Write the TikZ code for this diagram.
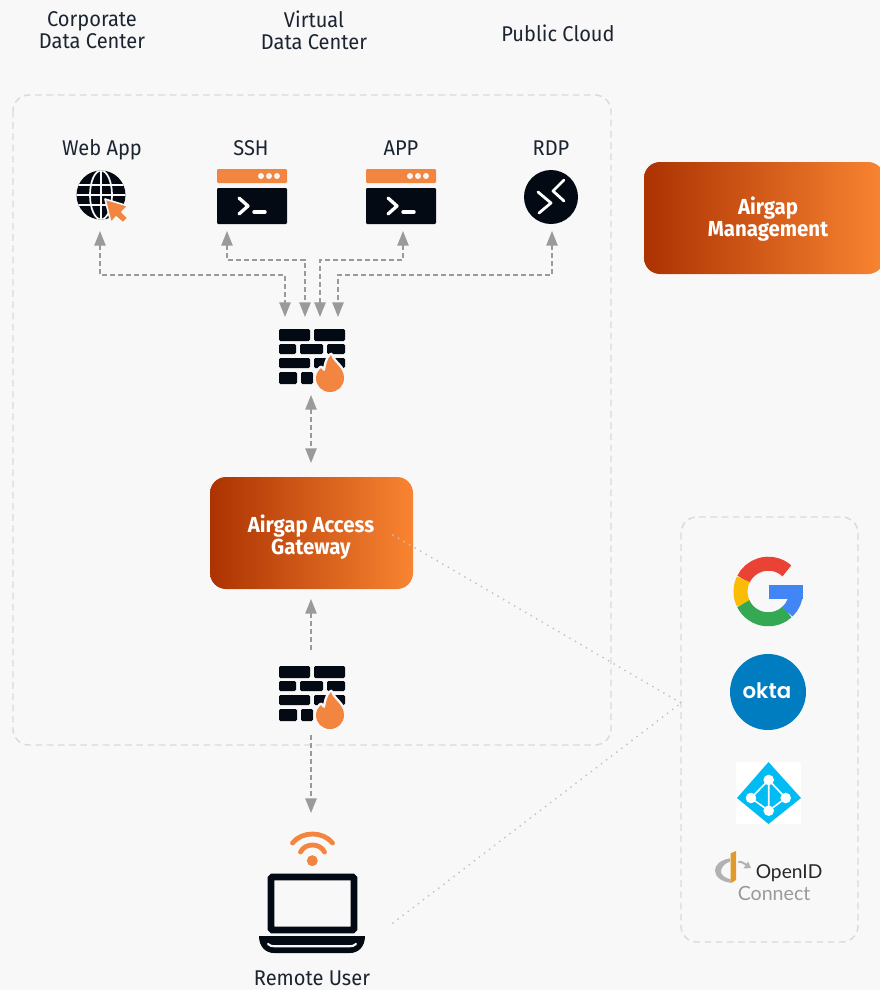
\documentclass[tikz,border=0pt]{standalone}
\usepackage{fontspec}
\setmainfont[FakeStretch=0.94]{Fira Sans}
\newfontfamily\oktafont{Poppins SemiBold}
\newfontfamily\oidfont{Lato}
\usetikzlibrary{arrows.meta}
\definecolor{bg}{HTML}{F8F8F8}
\definecolor{ink}{HTML}{030A14}
\definecolor{txt}{HTML}{1B2430}
\definecolor{fire}{HTML}{F28540}
\definecolor{arrowgrey}{HTML}{999A9C}
\definecolor{boxgrey}{HTML}{DADADA}
\definecolor{dotgrey}{HTML}{C2C2C2}
\definecolor{gradL}{HTML}{AC3302}
\definecolor{gradR}{HTML}{F98431}
\definecolor{gred}{HTML}{EA4335}
\definecolor{gyellow}{HTML}{FBBC05}
\definecolor{ggreen}{HTML}{34A853}
\definecolor{gblue}{HTML}{4285F4}
\definecolor{oktablue}{HTML}{007DC1}
\definecolor{azure}{HTML}{00BCF2}
\definecolor{oidorange}{HTML}{E09A2B}
\definecolor{oidgrey}{HTML}{B2B2B2}
\def\flamepath{(52,26) .. controls (54,34) and (65,38) .. (65,49)
      .. controls (65,57) and (59,63) .. (51,63)
      .. controls (43,63) and (37,57) .. (37,49)
      .. controls (37,45) and (39,42) .. (42,39)
      .. controls (43,41) and (44,42) .. (46,42)
      .. controls (47,36) and (48,30) .. (52,26) -- cycle}
\tikzset{
  lbl/.style={font=\fontsize{16pt}{16.5pt}\selectfont, text=txt, align=center, inner sep=0pt},
  boxlbl/.style={font=\bfseries\fontsize{16.3pt}{16.5pt}\selectfont, text=white, align=center, inner sep=0pt},
  conn/.style={draw=arrowgrey, line width=1.1pt, dash pattern=on 3.6pt off 2.4pt,
     {Triangle[width=8.5pt,length=11pt,fill=arrowgrey]}-{Triangle[width=8.5pt,length=11pt,fill=arrowgrey]}},
  connone/.style={draw=arrowgrey, line width=1.1pt, dash pattern=on 3.6pt off 2.4pt,
     -{Triangle[width=8.5pt,length=11pt,fill=arrowgrey]}},
  zone/.style={draw=boxgrey, line width=1.1pt, dash pattern=on 5pt off 3.4pt, rounded corners=12pt},
  dotline/.style={draw=dotgrey, line width=1.5pt, line cap=round, dash pattern=on 0pt off 4.8pt},
  brick/.style={fill=ink, rounded corners=1pt},
  firewall/.pic={
    \foreach \a/\b/\c/\d in {0/0/31/12,35/0/66/12,0/15/17/25,21/15/44/25,48/15/66/25,0/29/31/39,35/29/66/39,0/43/18/55,22/43/34/55}
      {\fill[brick] (\a,\b) rectangle (\c,\d);}
    \draw[bg, line width=3.6pt, line join=round] \flamepath;
    \fill[fire] \flamepath;
  },
  terminal/.pic={
    \fill[fire, rounded corners=0.8pt] (0,0) rectangle (70,14);
    \fill[ink, rounded corners=0.8pt] (0,19) rectangle (70,55);
    \foreach \x in {44,52,60} {\fill[bg] (\x,7) circle (3);}
    \draw[white, line width=2.5pt, line cap=round, line join=round] (22,29) -- (31,37) -- (22,45);
    \draw[white, line width=2.6pt, line cap=round] (37,43) -- (48,43);
  }
}
\begin{document}
\begin{tikzpicture}[x=0.75pt,y=-0.75pt]
\useasboundingbox (0,0) rectangle (880,990);
\fill[bg] (0,0) rectangle (880,990);

% zones
\draw[zone] (13,95) rectangle (611,745);
\draw[zone] (681,517) rectangle (858,942);

% top labels
\node[lbl] (corp) at (92,30) {Corporate\\Data Center};
\node[lbl] (virt) at (314,30) {Virtual\\Data Center};
\node[lbl,anchor=base] (pub) at (558,41) {Public Cloud};

% service labels
\node[lbl,anchor=base] (lweb) at (102,155) {Web App};
\node[lbl,anchor=base] (lssh) at (251,155) {SSH};
\node[lbl,anchor=base] (lapp) at (401,155) {APP};
\node[lbl,anchor=base] (lrdp) at (551,155) {RDP};

% globe
\begin{scope}[shift={(101,195)}]
  \fill[ink] (0,0) circle (24.5);
  \begin{scope}
    \clip (0,0) circle (24.5);
    \draw[bg, line width=1.3pt] (0,-25) -- (0,25) (-25,-10) -- (25,-10) (-25,0) -- (25,0) (-25,10) -- (25,10);
    \draw[bg, line width=1.3pt] (0,0) ellipse (11 and 24.5);
  \end{scope}
  \path[fill=fire, draw=bg, line width=1.2pt, line join=round]
    (4,4) -- (27,11) -- (21,17) -- (27,23) -- (22,28) -- (15,22) -- (10,28) -- cycle;
\end{scope}

% terminals
\pic (tssh) at (217,169) {terminal};
\pic (tapp) at (366,169) {terminal};

% rdp
\fill[ink] (551,197) circle (27);
\draw[white, line width=2.1pt, line cap=round, line join=round] (538,192) -- (551,203) -- (539,213);
\draw[white, line width=2.1pt, line cap=round, line join=round] (564,180) -- (553,191) -- (564,201);

% firewalls
\pic (fwa) at (279,329) {firewall};
\pic (fwb) at (279,666) {firewall};

% management box
\begin{scope}
  \clip (0,0) rectangle (880,990);
  \node[minimum width=180pt, minimum height=84pt, rounded corners=12pt, left color=gradL, right color=gradR, inner sep=0pt] (mgmt) at (764,218) {};
\end{scope}
\node[boxlbl] (mgmtl) at (768,219) {Airgap\\Management};

% gateway
\node[minimum width=152.25pt, minimum height=84pt, rounded corners=12pt, left color=gradL, right color=gradR, inner sep=0pt] (gw) at (311.5,533) {};
\node[boxlbl] (gwl) at (311,537.5) {Airgap Access\\Gateway};

% connector end points
\coordinate (pweb) at (100,231);
\coordinate (pssh) at (227,231);
\coordinate (papp) at (403,231);
\coordinate (prdp) at (552,231);
\coordinate (fw1) at (285,317);
\coordinate (fw2) at (305,317);
\coordinate (fw3) at (320,317);
\coordinate (fw4) at (338,317);
\coordinate (fwo) at (311,395);
\coordinate (gwi) at (311,463);
\coordinate (gwb) at (311,599);
\coordinate (fwt) at (311,650);
\coordinate (fwu) at (311,735);
\coordinate (lap) at (311,813);

\draw[conn] (pweb) -- ++(0,44) -| (fw1);
\draw[conn] (pssh) -- ++(0,29) -| (fw2);
\draw[conn] (papp) -- ++(0,29) -| (fw3);
\draw[conn] (prdp) -- ++(0,44) -| (fw4);
\draw[conn] (fwo) -- (gwi);
\draw[connone] (fwt) -- (gwb);
\draw[connone] (fwu) -- (lap);

% dotted links
\coordinate (dgw) at (393,535);
\coordinate (dlap) at (393,923);
\coordinate (didp) at (681,703);
\draw[dotline] (dgw) -- (didp);
\draw[dotline] (dlap) -- (didp);

% wifi + laptop
\fill[fire] (312.3,860.7) circle (5.5);
\draw[fire, line width=3.6pt, line cap=round] (300.5,852) .. controls (305,842.7) and (320,842.7) .. (324.5,852);
\draw[fire, line width=3.6pt, line cap=round] (292.5,843) .. controls (302,831) and (323,831) .. (332.5,843);
\draw[ink, line width=5pt, rounded corners=1pt] (271,877) rectangle (354,930);
\path[fill=ink] (259,936) -- (365,936) .. controls (365,947) and (358,953) .. (350,953) -- (274,953) .. controls (266,953) and (259,947) .. (259,936) -- cycle;
\draw[bg, line width=1.6pt, line cap=round] (268,944) .. controls (270,946) and (272,946.3) .. (275,946.3) -- (349,946.3) .. controls (352,946.3) and (354,946) .. (356,944);
\node[lbl,anchor=base] (lrem) at (312,985) {Remote User};

% Google G
\begin{scope}[shift={(768.3,591.5)}, yscale=-1]
  \draw[line width=10.5pt, draw=gred] (48:27.8) arc[start angle=48, end angle=154, radius=27.8];
  \draw[line width=10.5pt, draw=gyellow] (154:27.8) arc[start angle=154, end angle=206, radius=27.8];
  \draw[line width=10.5pt, draw=ggreen] (206:27.8) arc[start angle=206, end angle=313, radius=27.8];
  \draw[line width=10.5pt, draw=gblue] (313:27.8) arc[start angle=313, end angle=360, radius=27.8];
  \fill[gblue] (0.7,6.5) rectangle (34.4,-7.5);
\end{scope}

% Okta
\fill[oktablue] (768,692) circle (38);
\node[font=\oktafont\fontsize{16pt}{16pt}\selectfont, text=white, inner sep=0pt] (okta) at (767,691) {okta};

% Azure AD
\fill[white] (736,762) rectangle (801,824);
\fill[azure] (768.5,762) -- (801,798) -- (768.5,824) -- (737,798) -- cycle;
\draw[white, line width=1.2pt] (768.7,780) -- (751,798) -- (768.7,810.7) -- (785.7,798) -- cycle (768.7,780) -- (768.7,810.7);
\foreach \p in {(768.7,780),(751,798),(785.7,798),(768.7,810.7)} {\fill[white] \p circle (5.3);}

% OpenID
\fill[oidgrey] (730,858.3) .. controls (720,860) and (715,865) .. (715,870.5) .. controls (715,877) and (722,882) .. (730.7,882.7) -- (730.7,879.3) .. controls (725,878) and (721,875) .. (721,871.7) .. controls (721,867) and (725,863) .. (730,861.7) -- cycle;
\fill[oidorange] (730.7,853.3) -- (736,851) -- (736,880) -- (730.7,883.3) -- cycle;
\draw[oidgrey, line width=1.5pt] (738.3,861.7) .. controls (741,861.5) and (743,862.5) .. (746,864.5);
\fill[oidgrey] (751,868) -- (743.5,868.5) -- (748,861.5) -- cycle;
\node[font=\oidfont\fontsize{14.4pt}{14.4pt}\selectfont, text=black!85, inner sep=0pt, anchor=base west] (oid) at (755.5,878) {OpenID};
\node[font=\oidfont\fontsize{14.7pt}{14.7pt}\selectfont, text=black!40, inner sep=0pt, anchor=base west] (oidc) at (737.5,900.5) {Connect};
\end{tikzpicture}
\end{document}
